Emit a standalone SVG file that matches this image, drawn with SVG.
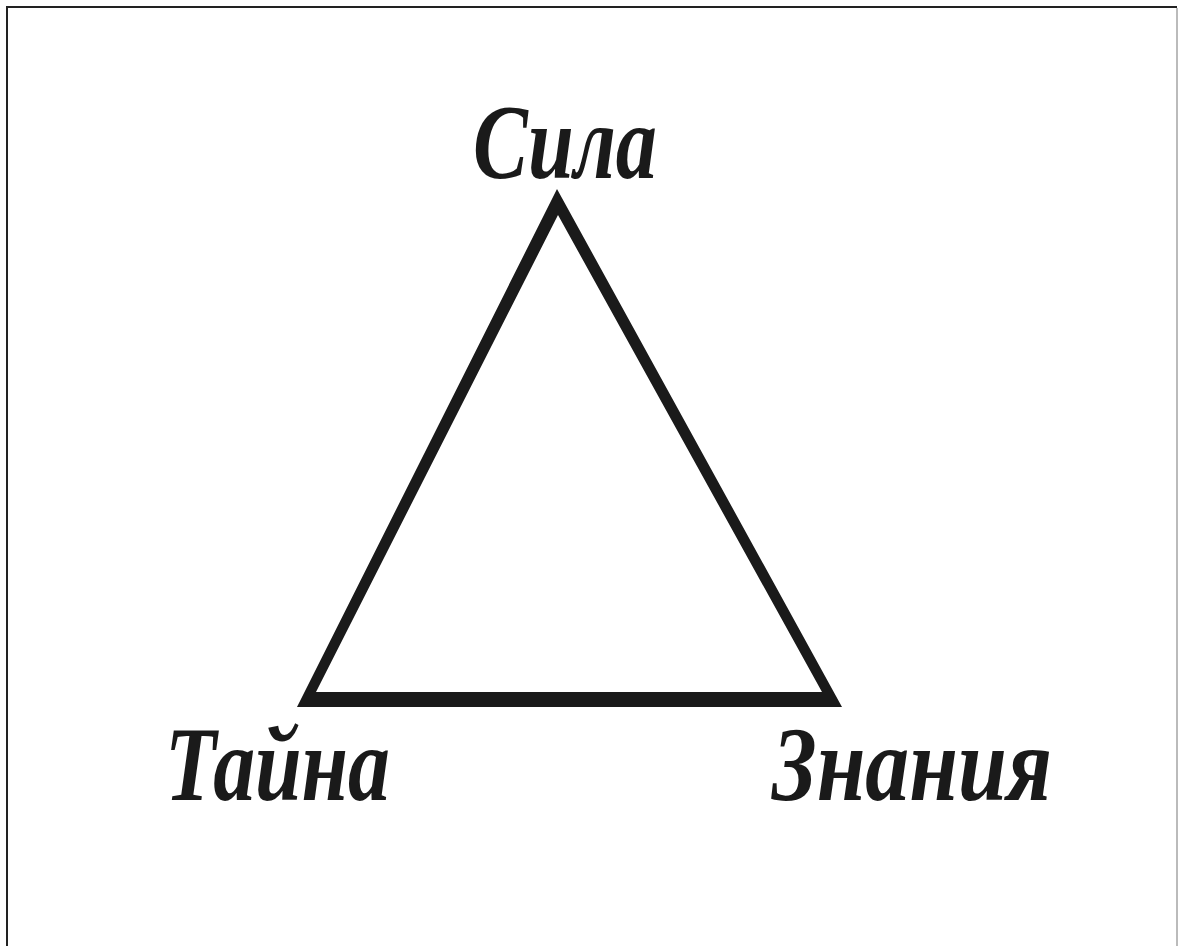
<svg xmlns="http://www.w3.org/2000/svg" width="1179" height="946" viewBox="0 0 1179 946">
  <style>
    .lbl { font-family: "Liberation Serif", "DejaVu Serif", serif; font-style: italic; font-weight: bold; font-size: 105px; fill: #1a1a1a; }
    .frame-dark { stroke: #222; stroke-width: 2; fill: none; }
    .frame-light { stroke: #bbb; stroke-width: 2; fill: none; }
    .tri { fill: #1a1a1a; fill-rule: evenodd; }
  </style>
  <rect width="1179" height="946" fill="#ffffff"/>
  <g id="frame">
    <path class="frame-dark" d="M7,946 V7 H1177"/>
    <path class="frame-light" d="M1177,8 V946"/>
  </g>
  <g id="connectors">
    <path class="tri" d="M557,189 L297,707 L842,707 Z M558,215 L316,692 L822,692 Z"/>
  </g>
  <g id="node-sila">
    <text class="lbl" x="473" y="178" textLength="184" lengthAdjust="spacingAndGlyphs">Сила</text>
  </g>
  <g id="node-taina">
    <text class="lbl" x="165" y="800" textLength="225" lengthAdjust="spacingAndGlyphs">Тайна</text>
  </g>
  <g id="node-znania">
    <text class="lbl" x="772" y="800" textLength="280" lengthAdjust="spacingAndGlyphs">Знания</text>
  </g>
</svg>
